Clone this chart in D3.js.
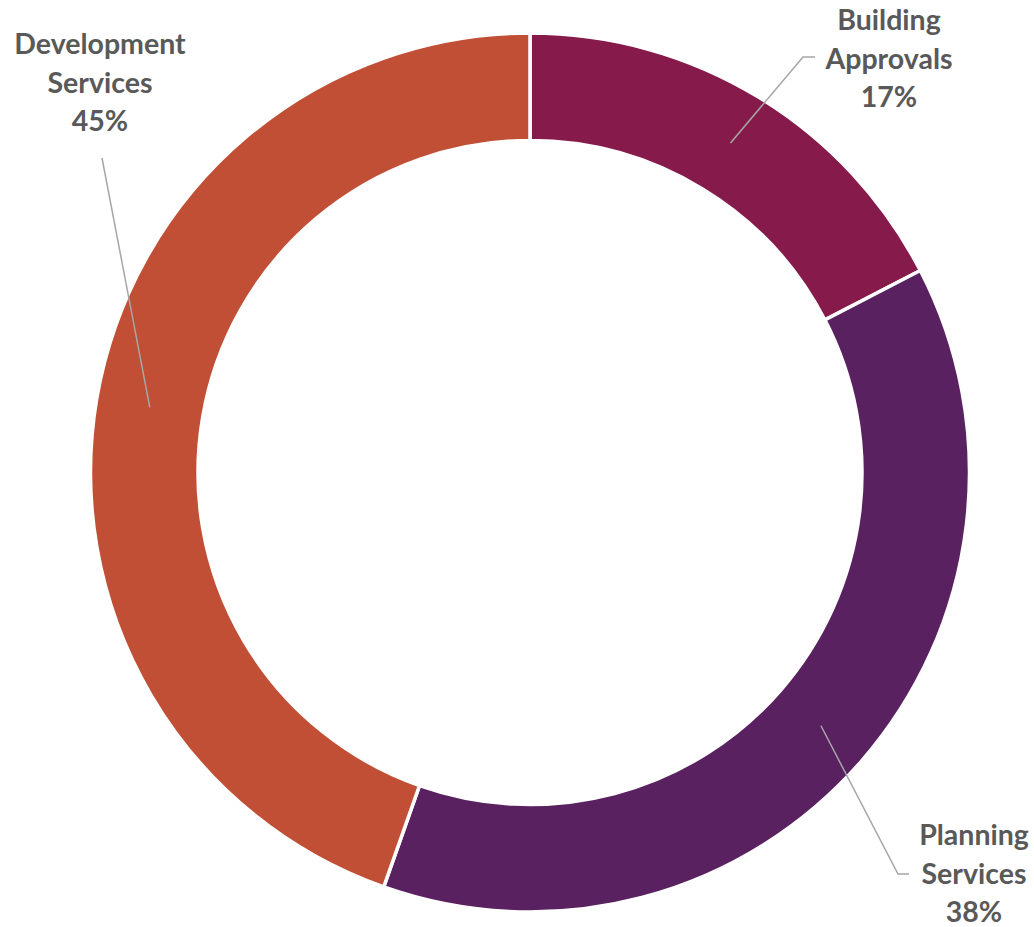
<!DOCTYPE html>
<html>
<head>
<meta charset="utf-8">
<script src="https://cdn.jsdelivr.net/npm/d3@7"></script>
<style>
  html, body { margin: 0; padding: 0; background: #fff; }
  svg { display: block; }
</style>
</head>
<body>
<svg id="chart" width="1034" height="927"></svg>
<script>
const categories = ["Building Approvals", "Planning Services", "Development Services"];
const labelLines = [["Building", "Approvals"], ["Planning", "Services"], ["Development", "Services"]];
const values = [17.4, 38.0, 44.6];
const colors = ["#861A4A", "#5A2161", "#C04F35"];

// label layout (positions only)
const labelAnchors = [
  { x: 889, y: 30, elbow: [803, 57], end: [815, 57] },
  { x: 974, y: 845, elbow: [898, 874], end: [909, 874] },
  { x: 100, y: 54, elbow: null, end: [102, 158] }
];

const W = 1034, H = 927;
const cx = 530, cy = 472.5;
const outerR = 439.5, innerR = 332;

const svg = d3.select("#chart");
const g = svg.append("g").attr("transform", `translate(${cx},${cy})`);

const data = categories.map((c, i) => ({ name: c, value: values[i], lines: labelLines[i], color: colors[i], lab: labelAnchors[i] }));
const pie = d3.pie().value(d => d.value).sort(null);
const arc = d3.arc().innerRadius(innerR).outerRadius(outerR);
const midArc = d3.arc().innerRadius((innerR + outerR) / 2).outerRadius((innerR + outerR) / 2);
const arcs = pie(data);
const total = d3.sum(values);
const fmt = d3.format(".0%");

g.selectAll("path.slice")
  .data(arcs)
  .join("path")
  .attr("class", "slice")
  .attr("d", arc)
  .attr("fill", d => d.data.color)
  .attr("stroke", "#fff")
  .attr("stroke-width", 3.5)
  .attr("stroke-linejoin", "miter");

// leader lines
const lg = svg.append("g");
arcs.forEach(d => {
  const c = midArc.centroid(d);
  const p0 = [cx + c[0], cy + c[1]];
  const pts = [p0];
  if (d.data.lab.elbow) pts.push(d.data.lab.elbow);
  pts.push(d.data.lab.end);
  lg.append("path")
    .attr("d", d3.line()(pts))
    .attr("fill", "none")
    .attr("stroke", "#A6A6A6")
    .attr("stroke-width", 1.5);
});

// labels
const tg = svg.append("g")
  .attr("font-family", "Lato, 'Open Sans', sans-serif")
  .attr("font-weight", "bold")
  .attr("font-size", 28.5)
  .attr("fill", "#595959")
  .attr("text-anchor", "middle");

arcs.forEach(d => {
  const lines = d.data.lines.concat([fmt(d.data.value / total)]);
  const t = tg.append("text").attr("x", d.data.lab.x).attr("y", d.data.lab.y);
  lines.forEach((ln, i) => {
    t.append("tspan").attr("x", d.data.lab.x).attr("dy", i === 0 ? 0 : 38.5).text(ln);
  });
});
</script>
</body>
</html>
